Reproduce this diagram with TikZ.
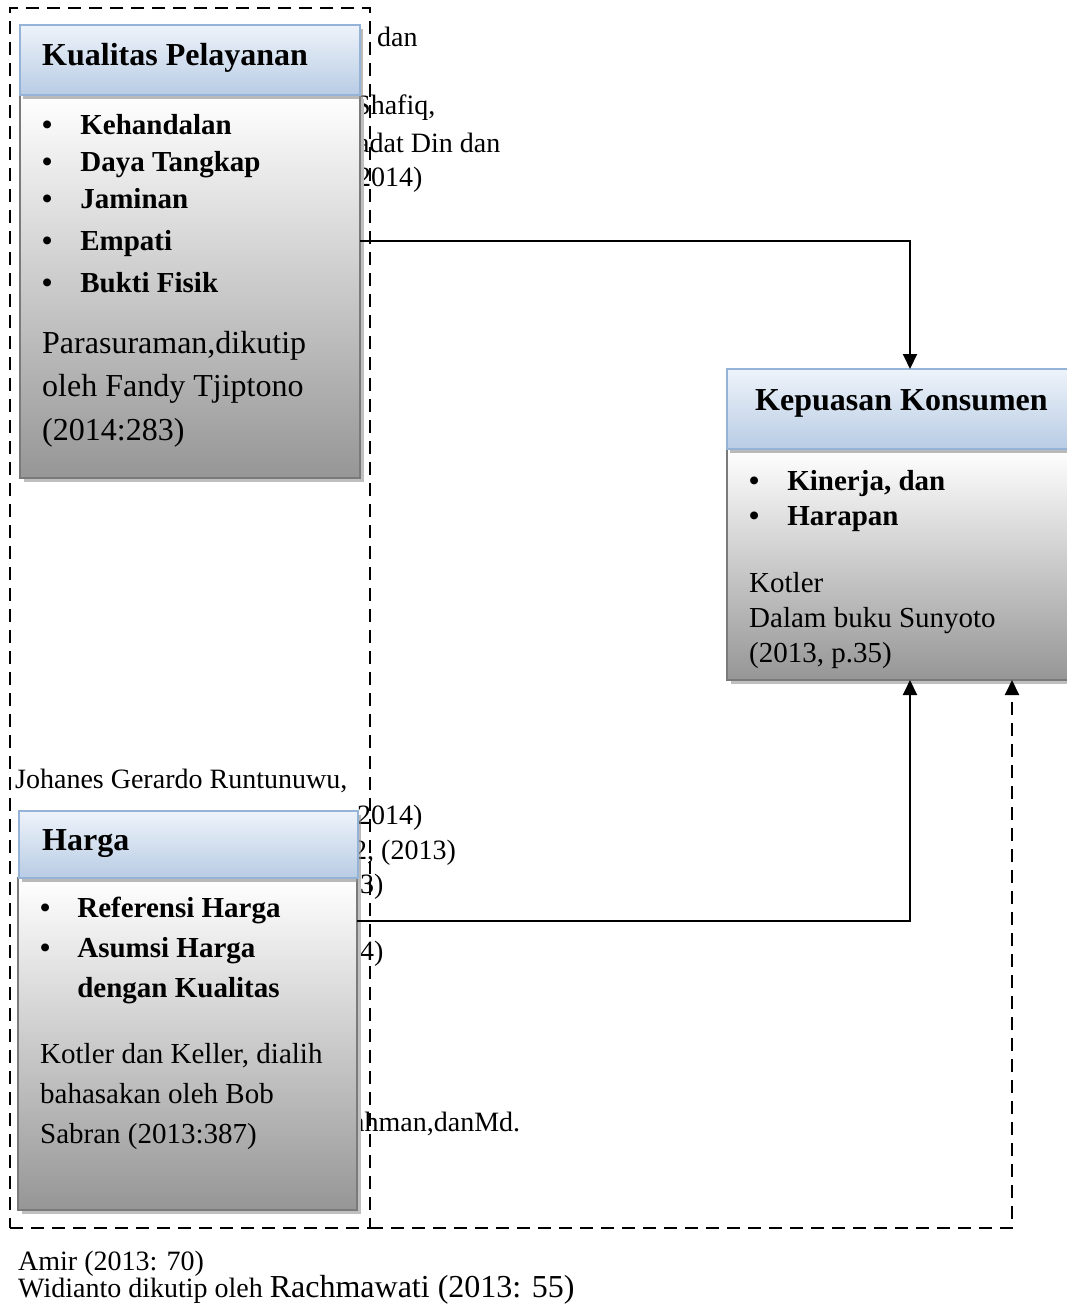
\documentclass[tikz,border=0pt]{standalone}
\usepackage{fontspec}
\setmainfont{Liberation Serif}
\usetikzlibrary{arrows.meta,shadows}

\definecolor{headtop}{HTML}{EEF3FA}
\definecolor{headbot}{HTML}{B8CCE4}
\definecolor{headline}{HTML}{95B3D7}
\definecolor{bodybot}{HTML}{969696}
\definecolor{bodyline}{HTML}{7A7A7A}

\begin{document}
\begin{tikzpicture}[x=1pt, y=-1pt,
    >={Triangle[length=15pt, width=14pt]},
    headbox/.style={draw=headline, line width=1.5pt, top color=headtop, bottom color=headbot,
        anchor=north west, inner sep=0pt, outer sep=0pt,
        drop shadow={shadow xshift=3pt, shadow yshift=-4pt, fill=black!45, opacity=0.6}},
    bodybox/.style={draw=bodyline, line width=2pt, top color=white, bottom color=bodybot,
        anchor=north west, inner sep=0pt, outer sep=0pt,
        drop shadow={shadow xshift=4pt, shadow yshift=-4pt, fill=black!25, opacity=1}},
    groupbox/.style={draw, line width=2pt, dash pattern=on 13pt off 8pt,
        anchor=north west, inner sep=0pt, outer sep=0pt},
    titletext/.style={anchor=base west, inner sep=0pt, font=\fontsize{32}{38}\selectfont\bfseries},
    itemtext/.style={anchor=base west, inner sep=0pt, font=\fontsize{29}{37}\selectfont\bfseries},
    reftext/.style={anchor=base west, inner sep=0pt, font=\fontsize{29}{35}\selectfont},
    oldtext/.style={anchor=base west, inner sep=0pt, font=\fontsize{28}{32}\selectfont},
    link/.style={line width=2pt},
    dashlink/.style={line width=2pt, dash pattern=on 13pt off 8pt}]
    \useasboundingbox (0,0) rectangle (1067,1306);

    % text lying behind the boxes
    \node[oldtext] (old1) at (377,47) {dan};
    \node[oldtext] (old2) at (355,114) {Shafiq,};
    \node[oldtext] (old3) at (357,152) {adat Din dan};
    \node[oldtext] (old4) at (357,186) {2014)};
    \node[oldtext] (old5) at (15,788) {Johanes Gerardo Runtunuwu,};
    \node[oldtext] (old6) at (357,824) {2014)};
    \node[oldtext] (old7) at (353,859) {2, (2013)};
    \node[oldtext] (old8) at (360,893) {3)};
    \node[oldtext] (old9) at (360,960) {4)};
    \node[oldtext] (old10) at (352,1131) {ahman,danMd.};
    \node[oldtext] (amir) at (18,1270) {Amir (2013: 70)};
    \node[oldtext] (widianto) at (18,1297) {Widianto dikutip oleh {\fontsize{32}{36}\selectfont Rachmawati (2013: 55)}};

    % dashed group round the two variables
    \node[groupbox, minimum width=360pt, minimum height=1220pt] (grp) at (10,8) {};

    % Kualitas Pelayanan
    \node[bodybox, minimum width=340pt, minimum height=383pt] (kualitasB) at (20,95) {};
    \node[headbox, minimum width=340pt, minimum height=70pt] (kualitasH) at (20,25) {};
    \node[titletext] (kualitasT) at (42,66) {Kualitas Pelayanan};
    \node[itemtext] (kualitasI) at (42,134) {
        \begin{tabular}[t]{@{}l@{\hspace{28pt}}l@{}}
            \textbullet & Kehandalan \\
            \textbullet & Daya Tangkap \\
            \textbullet & Jaminan \\[5pt]
            \textbullet & Empati \\[5pt]
            \textbullet & Bukti Fisik
        \end{tabular}
    };
    \node[reftext, font=\fontsize{32}{43.5}\selectfont] (kualitasR) at (42,353) {
        \begin{tabular}[t]{@{}l@{}}
            Parasuraman,dikutip \\
            oleh Fandy Tjiptono \\
            (2014:283)
        \end{tabular}
    };

    % Kepuasan Konsumen
    \node[bodybox, minimum width=342pt, minimum height=231pt] (kepuasanB) at (727,449) {};
    \node[headbox, minimum width=342pt, minimum height=80pt] (kepuasanH) at (727,369) {};
    \node[titletext] (kepuasanT) at (755,410) {Kepuasan Konsumen};
    \node[itemtext, font=\fontsize{29}{35}\selectfont\bfseries] (kepuasanI) at (749,490) {
        \begin{tabular}[t]{@{}l@{\hspace{28pt}}l@{}}
            \textbullet & Kinerja, dan \\
            \textbullet & Harapan
        \end{tabular}
    };
    \node[reftext] (kepuasanR) at (749,592) {
        \begin{tabular}[t]{@{}l@{}}
            Kotler \\
            Dalam buku Sunyoto \\
            (2013, p.35)
        \end{tabular}
    };

    % Harga
    \node[bodybox, minimum width=339pt, minimum height=332pt] (hargaB) at (18,878) {};
    \node[headbox, minimum width=339pt, minimum height=67pt] (hargaH) at (19,811) {};
    \node[titletext] (hargaT) at (42,850) {Harga};
    \node[itemtext, font=\fontsize{29}{40}\selectfont\bfseries] (hargaI) at (40,917) {
        \begin{tabular}[t]{@{}l@{\hspace{27pt}}l@{}}
            \textbullet & Referensi Harga \\
            \textbullet & Asumsi Harga \\
                        & dengan Kualitas
        \end{tabular}
    };
    \node[reftext, font=\fontsize{29}{40}\selectfont] (hargaR) at (40,1063) {
        \begin{tabular}[t]{@{}l@{}}
            Kotler dan Keller, dialih \\
            bahasakan oleh Bob \\
            Sabran (2013:387)
        \end{tabular}
    };

    % Connectors
    \draw[link, ->] ([yshift=45.5pt]kualitasB.east) -| ([xshift=12pt]kepuasanH.north);
    \draw[link, ->] ([yshift=123pt]hargaB.east) -| ([xshift=12pt]kepuasanB.south);
    \draw[dashlink, ->] (grp.south east) -| ([xshift=114pt]kepuasanB.south);
\end{tikzpicture}
\end{document}
